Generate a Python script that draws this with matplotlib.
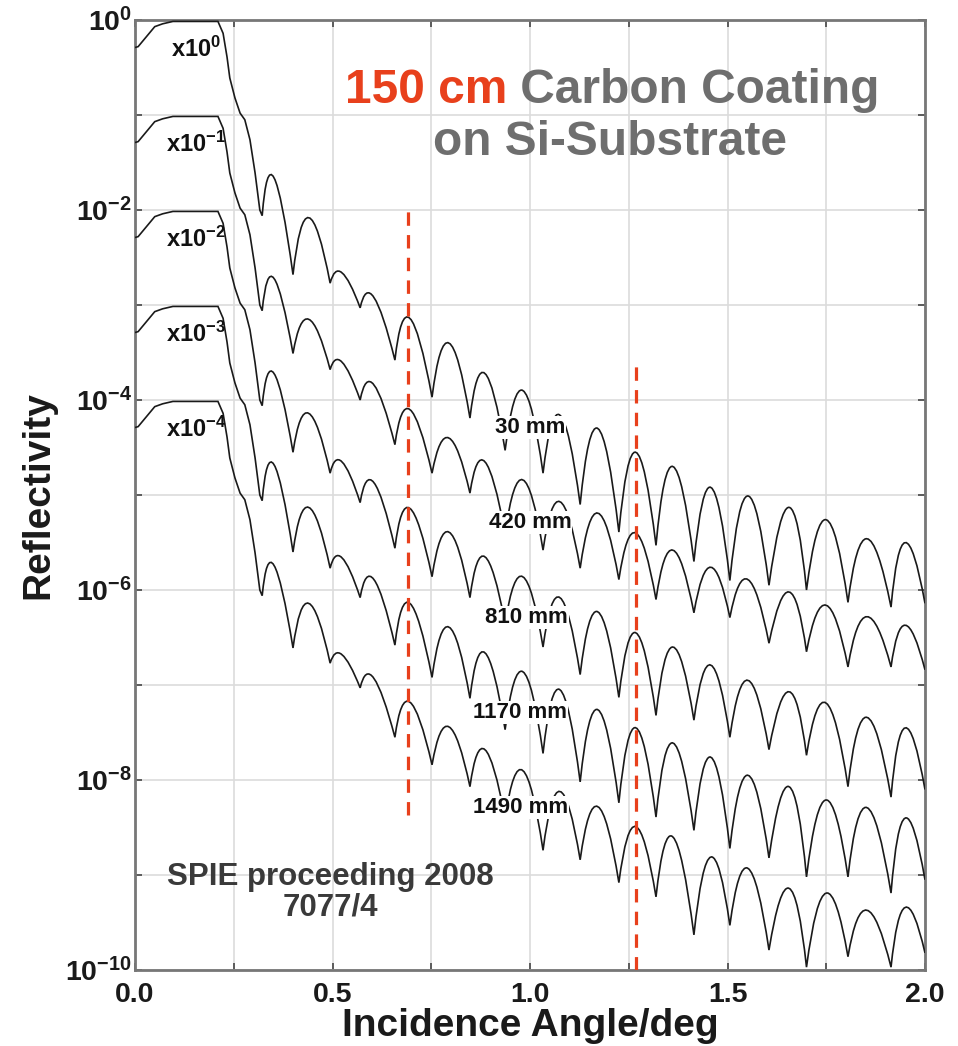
import math
import matplotlib
matplotlib.use("Agg")
import matplotlib.pyplot as plt
from matplotlib.path import Path
from matplotlib.patches import PathPatch
from matplotlib.ticker import FixedLocator, FuncFormatter, MultipleLocator

plt.rcParams["font.family"] = ["Liberation Sans", "DejaVu Sans"]
plt.rcParams["font.weight"] = "bold"
plt.rcParams["mathtext.fontset"] = "custom"
plt.rcParams["mathtext.rm"] = "Liberation Sans:bold"
plt.rcParams["mathtext.bf"] = "Liberation Sans:bold"
plt.rcParams["mathtext.it"] = "Liberation Sans:bold"

# total-reflection plateau and critical edge, same for every strip (log10 R, before offset)
EDGE_ANGLE = [0.0, 0.008, 0.038, 0.05, 0.07, 0.096, 0.21, 0.223, 0.233, 0.24,
              0.253, 0.266, 0.278, 0.291, 0.304, 0.316, 0.322]
EDGE_LOG_R = [-0.29, -0.28, -0.13, -0.07, -0.04, -0.015, -0.015, -0.14, -0.39, -0.61,
              -0.82, -0.98, -1.05, -1.26, -1.61, -2.0, -2.06]

# Kiessig fringes: alternating maximum / minimum, last value is the 2.0 deg end point
FRINGE_ANGLE = [0.352, 0.40, 0.44, 0.494, 0.524, 0.57, 0.605, 0.658, 0.696, 0.752,
                0.795, 0.848, 0.886, 0.937, 0.982, 1.033, 1.076, 1.127, 1.172, 1.225,
                1.268, 1.319, 1.362, 1.415, 1.458, 1.506, 1.552, 1.605, 1.656, 1.70,
                1.75, 1.805, 1.853, 1.914, 1.95, 2.0]

LOG_R_30 = [-1.66, -2.68, -2.08, -2.77, -2.66, -3.03, -2.92, -3.58, -3.14, -3.97,
            -3.40, -4.19, -3.72, -4.53, -3.90, -4.77, -4.16, -5.10, -4.30, -5.39,
            -4.55, -5.53, -4.70, -5.70, -4.92, -5.90, -5.01, -5.95, -5.13, -6.00,
            -5.26, -6.13, -5.46, -6.18, -5.50, -6.14]
LOG_R_420 = [-1.72, -2.51, -2.15, -2.68, -2.60, -3.00, -2.84, -3.47, -3.10, -3.77,
             -3.40, -3.98, -3.65, -4.40, -3.84, -4.58, -4.07, -4.77, -4.19, -4.89,
             -4.40, -5.10, -4.58, -5.24, -4.76, -5.29, -4.89, -5.56, -5.02, -5.65,
             -5.16, -5.81, -5.28, -5.81, -5.37, -5.84]
LOG_R_810 = [-1.72, -2.55, -2.14, -2.77, -2.65, -3.08, -2.87, -3.56, -3.14, -3.86,
             -3.39, -4.08, -3.65, -4.35, -3.86, -4.60, -4.08, -4.89, -4.23, -5.13,
             -4.45, -5.32, -4.60, -5.37, -4.79, -5.55, -4.95, -5.68, -5.07, -5.74,
             -5.19, -6.07, -5.34, -6.18, -5.45, -6.10]
LOG_R_1170 = [-1.68, -2.60, -2.13, -2.77, -2.66, -3.08, -2.89, -3.58, -3.14, -3.92,
              -3.39, -4.14, -3.66, -4.47, -3.86, -4.72, -4.05, -5.02, -4.26, -5.24,
              -4.45, -5.39, -4.61, -5.53, -4.76, -5.72, -4.95, -5.82, -5.07, -6.02,
              -5.21, -6.02, -5.29, -6.19, -5.40, -6.05]
LOG_R_1490 = [-1.74, -2.61, -2.14, -2.77, -2.68, -3.03, -2.93, -3.55, -3.18, -3.84,
              -3.44, -4.07, -3.68, -4.40, -3.90, -4.74, -4.12, -4.84, -4.28, -5.08,
              -4.49, -5.23, -4.60, -5.63, -4.81, -5.53, -4.93, -5.79, -5.14, -5.97,
              -5.19, -5.86, -5.37, -5.97, -5.34, -5.82]

POSITIONS = ["30 mm", "420 mm", "810 mm", "1170 mm", "1490 mm"]
OFFSET_EXP = [0, -1, -2, -3, -4]
STRIPS = [LOG_R_30, LOG_R_420, LOG_R_810, LOG_R_1170, LOG_R_1490]

# red guide lines through aligned fringe maxima
GUIDE_ANGLE = [0.69, 1.268]
GUIDE_TOP = [1e-2, 10 ** -3.6]
GUIDE_BOTTOM = [10 ** -8.37, 1e-10]


def strip_path(log_r, off):
    # straight segments over the edge, one quadratic arc per fringe (min -> max -> min)
    verts = [(a, 10 ** (v + off)) for a, v in zip(EDGE_ANGLE, EDGE_LOG_R)]
    codes = [Path.MOVETO] + [Path.LINETO] * (len(verts) - 1)
    sa, sv = EDGE_ANGLE[-1], EDGE_LOG_R[-1]
    pts = list(zip(FRINGE_ANGLE, log_r))
    for (pa, pv), (ma, mv) in zip(pts[0::2], pts[1::2]):
        ca = 2 * pa - 0.5 * (sa + ma)
        cv = 2 * pv - 0.5 * (sv + mv)
        verts += [(ca, 10 ** (cv + off)), (ma, 10 ** (mv + off))]
        codes += [Path.CURVE3, Path.CURVE3]
        sa, sv = ma, mv
    return Path(verts, codes)


def decade_label(v, pos):
    e = round(math.log10(v))
    return r"$\mathbf{10^{%d}}$" % e if e % 2 == 0 else ""


fig = plt.figure(figsize=(9.58, 10.46), dpi=100)
ax = fig.add_axes([135 / 958, 76 / 1046, 790 / 958, 950 / 1046])
ax.set_yscale("log")
ax.set_xlim(0, 2.0)
ax.set_ylim(1e-10, 1e0)

for log_r, off in zip(STRIPS, OFFSET_EXP):
    ax.add_patch(PathPatch(strip_path(log_r, off), fill=False,
                           edgecolor="#1a1a1a", lw=1.2, zorder=3))

for a, top, bot in zip(GUIDE_ANGLE, GUIDE_TOP, GUIDE_BOTTOM):
    ax.plot([a, a], [bot, top], color="#e8401c", lw=2.3,
            linestyle=(0, (4.2, 2.9)), zorder=4)

# offset factor labels on the plateaus
for off in OFFSET_EXP:
    ax.text(0.155, 10 ** (off - 0.31), r"$\mathbf{x10^{%d}}$" % off,
            ha="center", va="center", fontsize=17, color="#111", zorder=5)

# strip position labels, sitting on the curves
for name, off, x in zip(POSITIONS, OFFSET_EXP, [1.0, 1.0, 0.99, 0.975, 0.975]):
    ax.text(x, 10 ** (off - 4.29), name, ha="center", va="center",
            fontsize=16, fontweight="bold", color="#111", zorder=5,
            bbox=dict(boxstyle="square,pad=0.05", fc="white", ec="none"))

ax.xaxis.set_major_locator(MultipleLocator(0.5))
ax.xaxis.set_minor_locator(MultipleLocator(0.25))
ax.xaxis.set_major_formatter(FuncFormatter(lambda v, p: f"{v:.1f}"))
ax.yaxis.set_major_locator(FixedLocator([10.0 ** e for e in range(-10, 1)]))
ax.yaxis.set_minor_locator(FixedLocator([]))
ax.yaxis.set_major_formatter(FuncFormatter(decade_label))

ax.grid(True, which="both", axis="x", color="#dcdcdc", lw=1.2, zorder=0)
ax.grid(True, which="major", axis="y", color="#dcdcdc", lw=1.2, zorder=0)
ax.set_axisbelow(True)
ax.tick_params(which="both", direction="in", top=True, right=True,
               length=5, width=1.2, color="#444", labelcolor="#1a1a1a")
ax.tick_params(axis="x", labelsize=20.5, pad=9)
ax.tick_params(axis="y", labelsize=20.5, pad=2)
for tl in ax.get_xticklabels() + ax.get_yticklabels():
    tl.set_fontweight("bold")
for s in ax.spines.values():
    s.set_color("#777")
    s.set_linewidth(2)

ax.set_xlabel("Incidence Angle/deg", fontsize=28, fontweight="bold", color="#1a1a1a")
ax.set_ylabel("Reflectivity", fontsize=28, fontweight="bold", color="#1a1a1a")
ax.xaxis.label.set_va("baseline")
ax.xaxis.set_label_coords(0.5, -(1036 - 970) / 950)
ax.yaxis.set_label_coords(-0.099, 0.5)

t1 = fig.text(345 / 958, 1 - 103 / 1046, "150 cm", fontsize=34.5, fontweight="bold",
              color="#e8401c", va="baseline", ha="left")
ax.annotate(" Carbon Coating", xy=(1, 0), xycoords=t1, va="bottom", ha="left",
            fontsize=34.5, fontweight="bold", color="#6e6e6e")
fig.text(610 / 958, 1 - 155 / 1046, "on Si-Substrate", fontsize=34.5, fontweight="bold",
         color="#6e6e6e", va="baseline", ha="center")

fig.text(330 / 958, 1 - 885 / 1046, "SPIE proceeding 2008", fontsize=22.5,
         fontweight="bold", color="#3a3a3a", ha="center", va="baseline")
fig.text(330 / 958, 1 - 915 / 1046, "7077/4", fontsize=22.5,
         fontweight="bold", color="#3a3a3a", ha="center", va="baseline")

fig.savefig("out.png", dpi=100)
